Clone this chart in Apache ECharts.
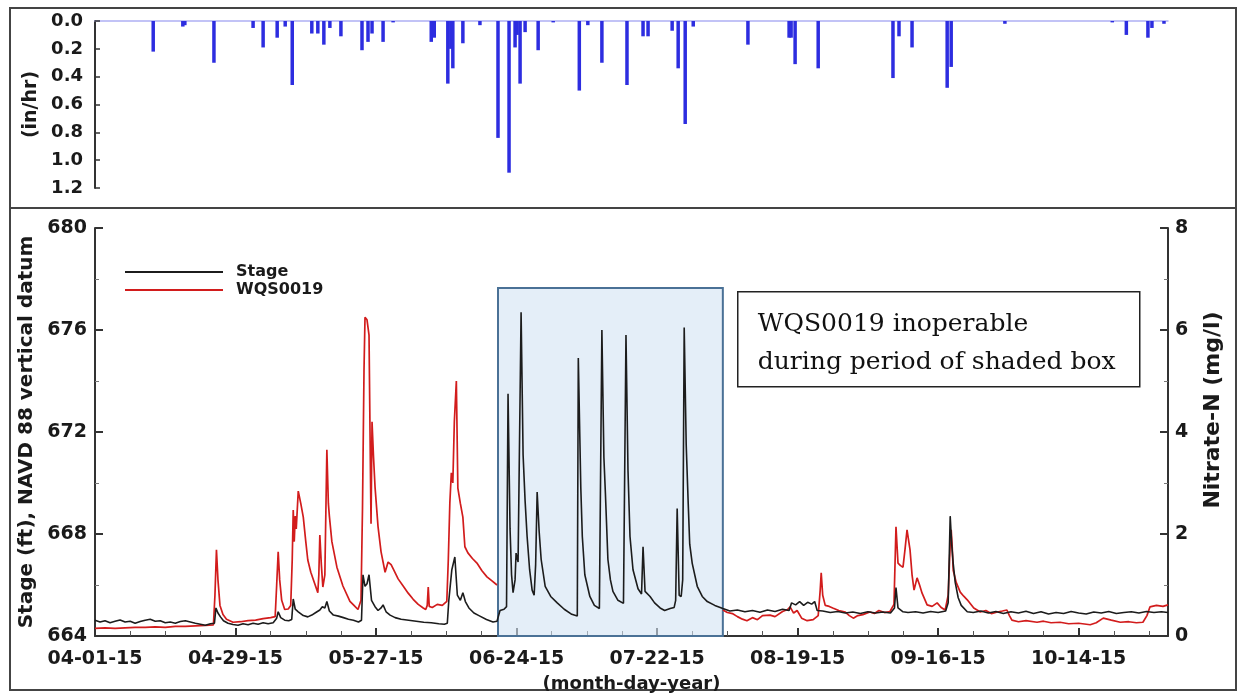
<!DOCTYPE html>
<html>
<head>
<meta charset="utf-8">
<script src="https://cdn.jsdelivr.net/npm/echarts@6/dist/echarts.min.js"></script>
<style>
  html, body { margin: 0; padding: 0; background: #ffffff; }
  #chart { width: 1241px; height: 693px; }
</style>
</head>
<body>
<div id="chart"></div>
<script>
// Days counted from 04-01-15; major date ticks every 28 days, minor every 7.
const tickLabels = ['04-01-15', '04-29-15', '05-27-15', '06-24-15', '07-22-15', '08-19-15', '09-16-15', '10-14-15'];
const dayMax = 213.8;

// Rainfall intensity (in/hr): [day, value]
const rain = [
  [11.6,0.22],[17.5,0.04],[17.9,0.03],[23.7,0.30],[31.5,0.05],[33.5,0.19],[36.3,0.12],[37.9,0.04],
  [39.3,0.46],[43.2,0.09],[44.4,0.09],[45.6,0.17],[46.8,0.05],[49.0,0.11],[53.2,0.21],[54.4,0.15],
  [55.2,0.09],[57.4,0.15],[59.4,0.01],[67.0,0.15],[67.6,0.12],[70.3,0.45],[70.9,0.20],[71.3,0.34],
  [73.3,0.16],[76.7,0.03],[80.3,0.84],[82.5,1.09],[83.7,0.19],[84.1,0.10],[84.7,0.45],[85.7,0.08],
  [88.3,0.21],[91.3,0.01],[96.5,0.50],[98.2,0.03],[101.0,0.30],[106.0,0.46],[109.2,0.11],[110.2,0.11],
  [115.0,0.07],[116.2,0.34],[117.6,0.74],[119.2,0.04],[130.1,0.17],[138.3,0.12],[138.7,0.12],[139.5,0.31],
  [144.1,0.34],[159.0,0.41],[160.2,0.11],[162.8,0.19],[169.8,0.48],[170.6,0.33],[181.3,0.02],[202.7,0.01],
  [205.5,0.10],[209.8,0.12],[210.6,0.05],[213.0,0.02]
];

// Stage (ft, NAVD 88): [day, value]
const stage = [
  [0,664.62],[1,664.55],[2,664.60],[3,664.52],[4,664.58],[5,664.63],[6,664.55],[7,664.58],[8,664.50],[9,664.57],
  [10,664.62],[11,664.66],[12,664.58],[13,664.60],[14,664.52],[15,664.55],[16,664.50],[17,664.57],[18,664.60],
  [19,664.55],[20,664.50],[21,664.46],[22,664.42],[23,664.48],[23.8,664.50],[24.1,665.10],[24.5,664.90],[25,664.75],
  [25.6,664.60],[26.5,664.50],[27.5,664.45],[28.5,664.42],[29.5,664.48],[30.5,664.44],[31.5,664.50],[32.5,664.46],
  [33.5,664.52],[34.5,664.48],[35.5,664.52],[36.2,664.70],[36.5,664.95],[37,664.72],[37.8,664.62],[38.6,664.60],
  [39.2,664.65],[39.5,665.45],[39.9,665.05],[40.5,664.95],[41.5,664.80],[42.4,664.75],[43.2,664.82],[44,664.92],
  [44.8,665.02],[45.3,665.15],[45.8,665.10],[46.2,665.35],[46.7,664.98],[47.5,664.82],[48.5,664.78],[49.5,664.72],
  [50.5,664.66],[51.5,664.62],[52.5,664.55],[53.1,664.62],[53.4,666.40],[53.8,665.95],[54.2,666.05],[54.6,666.40],
  [55.1,665.40],[55.8,665.15],[56.4,665.00],[57.0,665.10],[57.4,665.22],[58.0,664.95],[58.8,664.82],[59.8,664.72],
  [61,664.66],[62.5,664.62],[64,664.58],[65.5,664.54],[67,664.52],[68.5,664.48],[69.6,664.46],[70.2,664.50],
  [70.5,665.40],[71.1,666.60],[71.7,667.10],[72.2,665.60],[72.8,665.40],[73.3,665.70],[73.8,665.35],[74.5,665.10],
  [75.5,664.90],[76.5,664.80],[78,664.65],[79.3,664.55],[80.1,664.58],[80.7,665.00],[81.5,665.05],[82.0,665.15],
  [82.3,673.50],[82.7,668.20],[83.0,666.40],[83.3,665.70],[83.7,666.20],[83.9,667.25],[84.3,666.90],[84.9,676.70],
  [85.3,671.10],[85.7,669.30],[86.1,667.90],[86.6,666.60],[87.1,665.80],[87.5,665.60],[87.8,666.80],[88.1,669.65],
  [88.5,668.10],[88.9,667.00],[89.7,665.95],[90.8,665.55],[92.1,665.30],[93.5,665.05],[95.0,664.85],[96.1,664.78],
  [96.3,674.90],[96.8,669.80],[97.1,667.90],[97.6,666.40],[98.6,665.55],[99.5,665.20],[100.5,665.08],[101.0,676.00],
  [101.4,671.00],[101.7,669.60],[102.2,667.00],[102.7,666.20],[103.2,665.75],[104.2,665.40],[105.3,665.28],
  [105.8,675.80],[106.2,670.50],[106.6,667.90],[107.2,666.60],[108.2,665.85],[108.9,665.65],[109.2,667.50],
  [109.6,665.75],[110.6,665.55],[111.5,665.30],[112.6,665.10],[113.5,665.00],[114.6,665.08],[115.4,665.12],
  [115.7,665.40],[116.0,669.00],[116.4,665.60],[116.8,665.55],[117.1,666.20],[117.4,676.10],[117.8,671.50],
  [118.2,669.20],[118.5,667.60],[119.0,666.85],[120.0,665.95],[121.0,665.55],[122.0,665.35],[123.5,665.20],
  [125.1,665.08],[126.5,664.98],[128,665.02],[129.5,664.95],[131,665.00],[132.5,664.93],[134,665.02],[135.5,664.96],
  [137,665.05],[138.3,665.00],[138.8,665.30],[139.6,665.22],[140.4,665.35],[141.2,665.20],[142,665.32],[142.8,665.25],
  [143.4,665.35],[143.9,665.00],[145,664.98],[146.5,664.92],[148,664.96],[149.5,664.90],[151,664.94],[152.5,664.88],
  [154,664.95],[155.5,664.90],[157,664.94],[158.5,664.90],[159.3,665.10],[159.6,665.90],[160.0,665.10],[161,664.95],
  [162,664.92],[163.5,664.95],[165,664.90],[166.5,664.96],[168,664.92],[169.5,664.98],[170.0,665.30],[170.4,668.70],
  [170.7,667.60],[171.0,666.85],[171.4,666.10],[172.0,665.50],[172.6,665.20],[173.8,664.95],[175,664.92],
  [176.5,664.98],[178,664.90],[179.5,664.96],[181,664.88],[182.5,664.95],[184,664.90],[185.5,664.97],[187,664.88],
  [188.5,664.95],[190,664.86],[191.5,664.92],[193,664.88],[194.5,664.96],[196,664.90],[197.5,664.86],[199,664.94],
  [200.5,664.90],[202,664.96],[203.5,664.88],[205,664.92],[206.5,664.95],[208,664.90],[209.5,664.96],[211,664.92],
  [212.5,664.95],[213.8,664.92]
];

// WQS0019 nitrate-N (mg/l): [day, value]; null marks the gap while the sensor was down
const nitrate = [
  [0,0.15],[2,0.16],[4,0.15],[6,0.16],[8,0.17],[10,0.17],[12,0.18],[14,0.17],[16,0.19],[18,0.19],[20,0.20],
  [22,0.21],[23.6,0.22],[23.9,0.80],[24.2,1.69],[24.5,1.10],[24.9,0.60],[25.5,0.42],[26.2,0.33],[27.5,0.27],
  [29,0.28],[30.5,0.30],[32,0.31],[33.5,0.34],[35,0.36],[35.9,0.38],[36.2,1.00],[36.5,1.65],[36.8,1.10],
  [37.2,0.70],[37.8,0.52],[38.5,0.53],[39.0,0.60],[39.3,1.50],[39.5,2.47],[39.7,1.85],[39.9,2.35],[40.1,2.10],
  [40.5,2.84],[41.0,2.60],[41.5,2.33],[42.0,1.85],[42.4,1.49],[43.0,1.25],[43.7,1.05],[44.4,0.85],[44.6,1.20],
  [44.8,1.98],[45.1,1.40],[45.4,0.96],[45.8,1.20],[46.2,3.65],[46.5,2.60],[46.7,2.35],[47.2,1.85],[48.2,1.35],
  [49.4,0.98],[50.8,0.68],[51.6,0.60],[52.4,0.52],[53.0,0.70],[53.3,2.50],[53.6,5.20],[53.8,6.25],[54.2,6.20],
  [54.6,5.90],[54.8,4.00],[55.0,2.20],[55.2,4.20],[55.5,3.50],[55.8,2.92],[56.4,2.14],[57.0,1.65],[57.8,1.25],
  [58.4,1.45],[59.0,1.40],[59.4,1.32],[60.4,1.12],[61.4,0.98],[62.4,0.84],[63.4,0.72],[64.4,0.62],[65.4,0.55],
  [65.9,0.52],[66.2,0.60],[66.4,0.96],[66.6,0.58],[67.2,0.56],[68.2,0.62],[69.2,0.60],[70.1,0.68],[70.4,1.50],
  [70.7,2.60],[71.0,3.20],[71.3,3.00],[71.6,4.20],[72.0,5.00],[72.3,2.90],[72.8,2.60],[73.3,2.33],[73.7,1.75],
  [74.3,1.63],[75.2,1.52],[76.1,1.43],[77.1,1.28],[78.1,1.16],[79.1,1.08],[80.1,1.00],
  [102,null],
  [125.1,0.51],[126,0.46],[127,0.44],[128,0.38],[129,0.33],[129.9,0.30],[131,0.36],[132,0.32],[133,0.40],
  [134.5,0.41],[135.5,0.38],[137,0.48],[138,0.52],[138.5,0.57],[139.2,0.45],[139.9,0.50],[140.8,0.35],[141.9,0.30],
  [143.1,0.32],[144.1,0.40],[144.5,0.90],[144.7,1.24],[145.0,0.80],[145.5,0.60],[146.3,0.58],[147,0.55],[148.2,0.50],
  [149.5,0.47],[150.3,0.40],[151.1,0.35],[152,0.40],[153,0.42],[154.4,0.47],[155.3,0.44],[156.2,0.50],[157.3,0.46],
  [158.4,0.48],[159.2,0.62],[159.6,2.14],[160.0,1.43],[160.5,1.38],[161.0,1.35],[161.4,1.70],[161.8,2.08],
  [162.4,1.69],[162.8,1.20],[163.2,0.90],[163.8,1.14],[164.3,1.00],[164.8,0.84],[165.8,0.61],[166.8,0.58],
  [167.8,0.65],[168.6,0.56],[169.4,0.51],[170.0,0.80],[170.4,1.80],[170.6,2.08],[170.8,1.75],[171.0,1.29],
  [171.6,1.05],[172.4,0.86],[173.1,0.78],[173.8,0.71],[175.1,0.55],[176.4,0.47],[177.5,0.50],[178.6,0.44],
  [179.8,0.47],[180.8,0.49],[181.7,0.51],[182.2,0.40],[182.7,0.31],[184,0.28],[185.5,0.30],[187.7,0.27],[189,0.29],
  [190.5,0.26],[192.3,0.27],[194,0.24],[196,0.25],[198.3,0.22],[199.5,0.26],[200.9,0.35],[202.5,0.31],[204.3,0.27],
  [206,0.28],[207.5,0.26],[208.8,0.27],[209.6,0.40],[210.2,0.57],[211.5,0.60],[212.8,0.58],[213.8,0.61]
];

// Period when WQS0019 was not recording (days) and the stage extent of the shaded box (ft)
const inoperableDays = [80.3, 125.1];
const inoperableStage = [663.8, 677.65];

const majorTicks = tickLabels.map((_, i) => i * 28);
const minorTicks = [];
for (let d = 7; d < dayMax; d += 7) if (d % 28 !== 0) minorTicks.push(d);

const AX = '#333333';
const TXT = '#1a1a1a';
const SANS = 'DejaVu Sans';
const labelFont = { color: TXT, fontFamily: SANS, fontWeight: 'bold', fontSize: 19 };

const chart = echarts.init(document.getElementById('chart'), null, { renderer: 'canvas' });

chart.setOption({
  animation: false,
  backgroundColor: '#ffffff',
  grid: [
    { left: 95, right: 73, top: 21, height: 167, outerBoundsMode: 'none' },
    { left: 95, right: 73, top: 228, height: 408, outerBoundsMode: 'none' }
  ],
  xAxis: [
    { // rainfall panel baseline
      type: 'value', gridIndex: 0, min: 0, max: dayMax, position: 'top',
      axisLine: { show: true, lineStyle: { color: '#aeb0f4', width: 1.5 } },
      axisTick: { show: false }, axisLabel: { show: false }, splitLine: { show: false }
    },
    { // date axis
      type: 'value', gridIndex: 1, min: 0, max: dayMax, position: 'bottom',
      axisLine: { show: true, onZero: false, lineStyle: { color: AX, width: 2 } },
      axisTick: { show: true, inside: true, length: 8, customValues: majorTicks, lineStyle: { color: AX, width: 2 } },
      axisLabel: {
        show: true, customValues: majorTicks, margin: 14, ...labelFont,
        formatter: v => {
          const i = Math.round(v / 28);
          return Math.abs(v - i * 28) < 1e-6 && tickLabels[i] ? tickLabels[i] : '';
        }
      },
      splitLine: { show: false },
      name: '(month-day-year)', nameLocation: 'middle', nameGap: 39,
      nameTextStyle: { color: TXT, fontFamily: SANS, fontWeight: 'bold', fontSize: 18 }
    },
    { // weekly minor ticks
      type: 'value', gridIndex: 1, min: 0, max: dayMax, position: 'bottom',
      axisLine: { show: false },
      axisTick: { show: true, inside: true, length: 5, customValues: minorTicks, lineStyle: { color: '#555', width: 1 } },
      axisLabel: { show: false }, splitLine: { show: false }
    }
  ],
  yAxis: [
    { // rainfall intensity, downward
      type: 'value', gridIndex: 0, min: 0, max: 1.2, interval: 0.2, inverse: true,
      axisLine: { show: true, lineStyle: { color: AX, width: 2 } },
      axisTick: { show: true, inside: true, length: 5, lineStyle: { color: AX, width: 1.5 } },
      axisLabel: { margin: 12, ...labelFont, fontSize: 18, formatter: v => v.toFixed(1) },
      splitLine: { show: false },
      name: '(in/hr)', nameLocation: 'middle', nameGap: 52, nameRotate: 90,
      nameTextStyle: { color: TXT, fontFamily: SANS, fontWeight: 'bold', fontSize: 19 }
    },
    { // stage
      type: 'value', gridIndex: 1, min: 664, max: 680, interval: 4, position: 'left',
      axisLine: { show: true, onZero: false, lineStyle: { color: AX, width: 2 } },
      axisTick: { show: true, inside: true, length: 8, lineStyle: { color: AX, width: 2 } },
      minorTick: { show: true, splitNumber: 2, length: 4, lineStyle: { color: '#777', width: 1 } },
      axisLabel: { margin: 8, ...labelFont },
      splitLine: { show: false },
      name: 'Stage (ft), NAVD 88 vertical datum', nameLocation: 'middle', nameGap: 47, nameRotate: 90,
      nameTextStyle: { color: TXT, fontFamily: SANS, fontWeight: 'bold', fontSize: 20 }
    },
    { // nitrate
      type: 'value', gridIndex: 1, min: 0, max: 8, interval: 2, position: 'right',
      axisLine: { show: true, onZero: false, lineStyle: { color: AX, width: 2 } },
      axisTick: { show: true, inside: true, length: 8, lineStyle: { color: AX, width: 2 } },
      minorTick: { show: true, splitNumber: 2, length: 4, lineStyle: { color: '#777', width: 1 } },
      axisLabel: { margin: 7, ...labelFont },
      splitLine: { show: false },
      name: 'Nitrate-N (mg/l)', nameLocation: 'middle', nameGap: 34, nameRotate: 90,
      nameTextStyle: { color: TXT, fontFamily: SANS, fontWeight: 'bold', fontSize: 22, padding: [0, 0, 0, 44] }
    }
  ],
  legend: {
    left: 120, top: 259, orient: 'vertical',
    icon: 'rect', itemWidth: 98, itemHeight: 2, itemGap: 2,
    data: ['Stage', 'WQS0019'],
    textStyle: { color: TXT, fontFamily: SANS, fontWeight: 'bold', fontSize: 16, padding: [0, 0, 0, 8] }
  },
  series: [
    {
      name: 'Rainfall', type: 'bar', xAxisIndex: 0, yAxisIndex: 0,
      data: rain, barWidth: 3.5, itemStyle: { color: '#2d2de0' }
    },
    {
      name: 'WQS0019', type: 'line', xAxisIndex: 1, yAxisIndex: 2,
      data: nitrate, symbol: 'none', connectNulls: false, z: 3,
      lineStyle: { color: '#d21c1c', width: 1.7 }, itemStyle: { color: '#d21c1c' }
    },
    {
      name: 'Stage', type: 'line', xAxisIndex: 1, yAxisIndex: 1,
      data: stage, symbol: 'none', z: 4, clip: false,
      lineStyle: { color: '#1c1c1c', width: 1.6 }, itemStyle: { color: '#1c1c1c' },
      markArea: {
        silent: true,
        itemStyle: { color: 'rgba(210,227,243,0.6)', borderColor: '#4a7196', borderWidth: 2 },
        data: [[
          { xAxis: inoperableDays[0], yAxis: inoperableStage[0] },
          { xAxis: inoperableDays[1], yAxis: inoperableStage[1] }
        ]]
      }
    }
  ],
  graphic: [
    { type: 'rect', silent: true, z: -10,
      shape: { x: 10, y: 8, width: 1226, height: 682 },
      style: { fill: 'none', stroke: '#444', lineWidth: 2 } },
    { type: 'line', silent: true, z: -10,
      shape: { x1: 10, y1: 208, x2: 1236, y2: 208 },
      style: { stroke: '#444', lineWidth: 2 } },
    { type: 'group', left: 737, top: 291, z: 20, children: [
      { type: 'rect', shape: { x: 0, y: 0, width: 402, height: 95 },
        style: { fill: '#ffffff', stroke: '#222', lineWidth: 1.5 } },
      { type: 'text', x: 20, y: 33,
        style: { text: 'WQS0019 inoperable', fill: '#111', font: '25px "DejaVu Serif"', verticalAlign: 'middle' } },
      { type: 'text', x: 20, y: 71,
        style: { text: 'during period of shaded box', fill: '#111', font: '25px "DejaVu Serif"', verticalAlign: 'middle' } }
    ] }
  ]
});
</script>
</body>
</html>
